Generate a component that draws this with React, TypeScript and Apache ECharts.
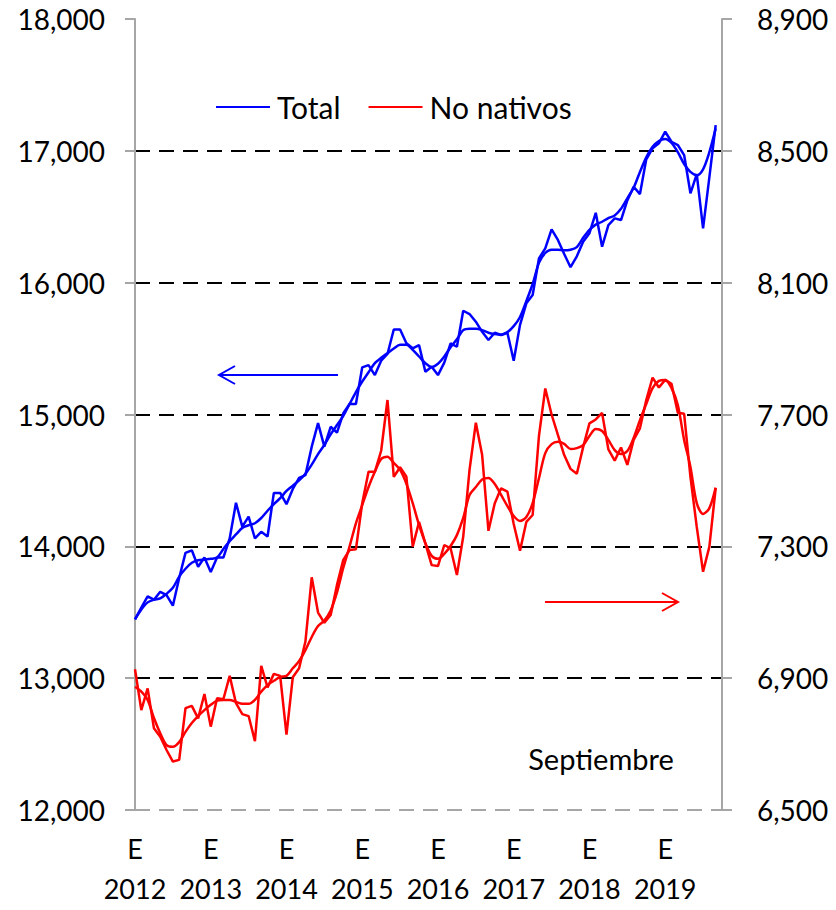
import React, { useEffect, useRef } from "react";
import * as echarts from "echarts";

const years = ["2012", "2013", "2014", "2015", "2016", "2017", "2018", "2019"];
// Monthly categories Jan 2012 .. Oct 2019 (last slot empty, data ends Sep 2019)
const months: string[] = [];
years.forEach((y) => {
  for (let m = 1; m <= 12; m++) {
    if (y === "2019" && m > 10) break;
    months.push(y + "-" + (m < 10 ? "0" + m : "" + m));
  }
});

const totalRaw = [
  13446, 13535, 13620, 13595, 13655, 13630, 13550, 13760, 13950, 13970, 13845, 13915,
  13805, 13915, 13915, 14060, 14330, 14150, 14225, 14060, 14110, 14075, 14405, 14405,
  14320, 14435, 14520, 14540, 14756, 14935, 14756, 14907, 14862, 15009, 15080, 15080,
  15358, 15375, 15299, 15408, 15459, 15645, 15645, 15540, 15502, 15527, 15325, 15362,
  15299, 15393, 15540, 15514, 15787, 15762, 15704, 15627, 15565, 15620, 15603, 15620,
  15408, 15680, 15843, 15906, 16184, 16260, 16405, 16324, 16217, 16117, 16200, 16310,
  16375, 16530, 16273, 16437, 16488, 16475, 16624, 16728, 16672, 16936, 17019, 17057,
  17145, 17069, 17044, 16968, 16678, 16824, 16412, 16800, 17195,
];

const totalTrend = [
  13446, 13520, 13575, 13595, 13605, 13640, 13685, 13770, 13830, 13875, 13895, 13900,
  13905, 13915, 13980, 14040, 14090, 14140, 14160, 14175, 14215, 14270, 14320, 14365,
  14420, 14460, 14500, 14550, 14620, 14700, 14770, 14850, 14920, 14990, 15080, 15170,
  15250, 15320, 15390, 15430, 15465, 15500, 15530, 15530, 15490, 15440, 15390, 15360,
  15385, 15440, 15510, 15570, 15640, 15650, 15650, 15640, 15620, 15610, 15605, 15625,
  15670, 15740, 15860, 15990, 16150, 16225, 16250, 16250, 16245, 16250, 16270, 16340,
  16400, 16440, 16462, 16490, 16510, 16560, 16640, 16720, 16840, 16950, 17030, 17075,
  17090, 17060, 16990, 16900, 16840, 16815, 16860, 16990, 17170,
];

const noNativosRaw = [
  6927, 6803, 6869, 6748, 6722, 6682, 6647, 6652, 6809, 6816, 6778, 6852,
  6753, 6839, 6836, 6907, 6824, 6791, 6785, 6709, 6937, 6872, 6913, 6907,
  6729, 6903, 6930, 7011, 7206, 7099, 7068, 7092, 7183, 7259, 7289, 7291,
  7431, 7526, 7526, 7590, 7744, 7511, 7540, 7511, 7299, 7374, 7309, 7243,
  7240, 7304, 7294, 7213, 7329, 7532, 7675, 7577, 7347, 7431, 7476, 7466,
  7368, 7287, 7374, 7395, 7635, 7779, 7700, 7638, 7577, 7535, 7520, 7601,
  7673, 7685, 7705, 7594, 7560, 7600, 7547, 7623, 7658, 7744, 7812, 7782,
  7805, 7793, 7705, 7702, 7511, 7359, 7223, 7299, 7477,
];

const noNativosTrend = [
  6874, 6859, 6834, 6779, 6733, 6697, 6692, 6706, 6737, 6764, 6785, 6803,
  6819, 6832, 6834, 6834, 6828, 6822, 6822, 6834, 6859, 6879, 6892, 6904,
  6907, 6930, 6952, 6985, 7025, 7058, 7075, 7105, 7160, 7235, 7300, 7370,
  7425, 7480, 7526, 7565, 7572, 7553, 7532, 7490, 7431, 7365, 7310, 7271,
  7262, 7277, 7301, 7334, 7386, 7456, 7480, 7503, 7507, 7489, 7456, 7422,
  7392, 7377, 7389, 7431, 7507, 7583, 7610, 7617, 7611, 7595, 7598, 7607,
  7635, 7656, 7650, 7623, 7592, 7580, 7589, 7629, 7683, 7732, 7780, 7802,
  7805, 7780, 7729, 7623, 7541, 7431, 7398, 7416, 7478,
];

const FONT = "Lato";
const FS = 28;
const fmt = (v: number) => v.toLocaleString("en-US");

export default function App() {
  const ref = useRef<HTMLDivElement>(null);
  useEffect(() => {
    if (!ref.current) return;
    const chart = echarts.init(ref.current, null, { renderer: "svg" });
    const axisGray = "#a6a6a6";
    const LW = 2.5;
    chart.setOption({
      animation: false,
      backgroundColor: "#ffffff",
      textStyle: { fontFamily: FONT },
      grid: { left: 135, right: 114, top: 19, bottom: 100, containLabel: false },
      legend: {
        data: ["Total", "No nativos"],
        left: 216,
        top: 92,
        padding: 0,
        icon: "rect",
        itemWidth: 54,
        itemHeight: 2,
        itemGap: 28,
        textStyle: { fontFamily: FONT, fontSize: 30, color: "#000", padding: [0, 0, 0, 2] },
        selectedMode: false,
      },
      xAxis: {
        type: "category",
        data: months,
        boundaryGap: false,
        axisLine: { show: false },
        axisTick: { show: false },
        splitLine: { show: false },
        axisLabel: {
          interval: (index: number) => index % 12 === 0,
          formatter: (val: string) => "E\n" + val.slice(0, 4),
          fontFamily: FONT,
          fontSize: 27,
          color: "#000",
          lineHeight: 40,
          margin: 18,
        },
      },
      yAxis: [
        {
          type: "value",
          min: 12000,
          max: 18000,
          interval: 1000,
          axisLine: { show: true, lineStyle: { color: axisGray, width: 2 } },
          axisTick: { show: true, length: 10, lineStyle: { color: axisGray, width: 2 } },
          axisLabel: {
            formatter: (v: number) => fmt(v),
            fontFamily: FONT,
            fontSize: FS,
            color: "#000",
            margin: 30,
          },
          splitLine: {
            show: true,
            lineStyle: {
              color: [axisGray, "#000", "#000", "#000", "#000", "#000", "rgba(0,0,0,0)"],
              width: 2,
              type: [15, 9],
            },
          },
        },
        {
          type: "value",
          min: 6500,
          max: 8900,
          interval: 400,
          position: "right",
          axisLine: { show: true, lineStyle: { color: axisGray, width: 2 } },
          axisTick: { show: true, length: 10, lineStyle: { color: axisGray, width: 2 } },
          axisLabel: {
            formatter: (v: number) => fmt(v),
            fontFamily: FONT,
            fontSize: FS,
            color: "#000",
            margin: 35,
          },
          splitLine: { show: false },
        },
      ],
      series: [
        {
          name: "Total",
          type: "line",
          yAxisIndex: 0,
          data: totalRaw,
          showSymbol: false,
          symbol: "none",
          lineStyle: { color: "#0000ff", width: LW },
          itemStyle: { color: "#0000ff" },
        },
        {
          name: "Total tendencia",
          type: "line",
          yAxisIndex: 0,
          data: totalTrend,
          showSymbol: false,
          symbol: "none",
          smooth: 0.3,
          lineStyle: { color: "#0000ff", width: LW },
          itemStyle: { color: "#0000ff" },
        },
        {
          name: "No nativos",
          type: "line",
          yAxisIndex: 1,
          data: noNativosRaw,
          showSymbol: false,
          symbol: "none",
          lineStyle: { color: "#ff0000", width: LW },
          itemStyle: { color: "#ff0000" },
        },
        {
          name: "No nativos tendencia",
          type: "line",
          yAxisIndex: 1,
          data: noNativosTrend,
          showSymbol: false,
          symbol: "none",
          smooth: 0.3,
          lineStyle: { color: "#ff0000", width: LW },
          itemStyle: { color: "#ff0000" },
        },
      ],
      graphic: [
        {
          type: "polyline",
          shape: { points: [[338, 375], [219, 375]] },
          style: { stroke: "#0000ff", lineWidth: 2, fill: null },
        },
        {
          type: "polyline",
          shape: { points: [[235, 366], [219, 375], [235, 384]] },
          style: { stroke: "#0000ff", lineWidth: 2, fill: null },
        },
        {
          type: "polyline",
          shape: { points: [[545, 602], [678, 602]] },
          style: { stroke: "#ff0000", lineWidth: 2, fill: null },
        },
        {
          type: "polyline",
          shape: { points: [[662, 593], [678, 602], [662, 611]] },
          style: { stroke: "#ff0000", lineWidth: 2, fill: null },
        },
        {
          type: "text",
          x: 601,
          y: 758,
          style: {
            text: "Septiembre",
            fontFamily: FONT,
            fontSize: 29,
            fill: "#000",
            textAlign: "center",
            textVerticalAlign: "middle",
          },
        },
      ],
    });
    return () => chart.dispose();
  }, []);
  return (
    <div
      ref={ref}
      style={{ position: "fixed", left: 0, top: 0, width: 836, height: 910, background: "#fff" }}
    />
  );
}
